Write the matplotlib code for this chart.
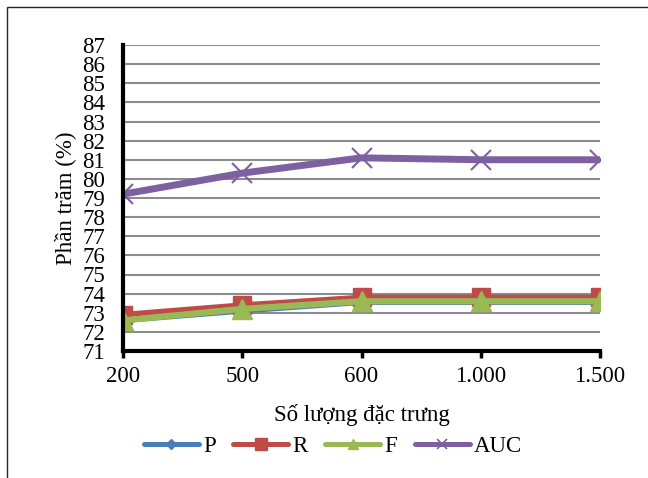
import matplotlib
matplotlib.use("Agg")
import matplotlib.pyplot as plt
from matplotlib.patches import Rectangle
from matplotlib.lines import Line2D

categories = ["200", "500", "600", "1.000", "1.500"]
P = [72.6, 73.1, 73.55, 73.55, 73.55]
R = [72.9, 73.4, 73.8, 73.8, 73.8]
F = [72.6, 73.2, 73.6, 73.6, 73.6]
AUC = [79.2, 80.3, 81.1, 81.0, 81.0]
y_ticks = list(range(71, 88))

plt.rcParams['font.family'] = ['Liberation Serif', 'DejaVu Serif']

W, H = 648, 478
fig = plt.figure(figsize=(W / 100, H / 100), dpi=100)
fig.patch.set_facecolor("white")

# outer chart border
fig.add_artist(Rectangle((7 / W, -0.05), 1.2, 1 - 7 / H + 0.05, transform=fig.transFigure,
                         fill=False, edgecolor="#262626", linewidth=1.0))

ax = fig.add_axes([123 / W, (H - 351) / H, (600 - 123) / W, (351 - 45) / H])
x = list(range(len(categories)))

colors = {"P": "#4A7EBB", "R": "#BE4B48", "F": "#98B954", "AUC": "#7D60A0"}
ax.plot(x, P, color=colors["P"], lw=4, marker="D", ms=7, zorder=3)
ax.plot(x, R, color=colors["R"], lw=4, marker="s", ms=13, zorder=4)
ax.plot(x, F, color=colors["F"], lw=4.5, marker="^", ms=14, zorder=5)
ax.plot(x, AUC, color=colors["AUC"], lw=5, marker="x", ms=15, mew=1.5, zorder=6)

ax.set_xlim(0, len(categories) - 1)
ax.set_ylim(71, 87)
ax.set_yticks(y_ticks)
ax.set_xticks(x)
ax.set_xticklabels(categories)
ax.tick_params(axis="y", length=0, labelsize=16.5, pad=13)
ax.tick_params(axis="x", length=5, width=2.5, labelsize=16.5, pad=6, direction="out")
ax.grid(axis="y", color="#8C8C8C", lw=1.5)
ax.set_axisbelow(True)
for s in ["top", "right"]:
    ax.spines[s].set_visible(False)
ax.spines["left"].set_linewidth(3)
ax.spines["bottom"].set_linewidth(3)
ax.spines["left"].set_zorder(7)

ax.set_xlabel("Số lượng đặc trưng", fontsize=16.5, labelpad=12)
ax.set_ylabel("Phần trăm (%)", fontsize=16.5, labelpad=4)

handles = [
    Line2D([], [], color=colors["P"], lw=3.6, solid_capstyle="round", marker="D", ms=5),
    Line2D([], [], color=colors["R"], lw=3.6, solid_capstyle="round", marker="s", ms=8),
    Line2D([], [], color=colors["F"], lw=3.6, solid_capstyle="round", marker="^", ms=7),
    Line2D([], [], color=colors["AUC"], lw=3.6, solid_capstyle="round", marker="x", ms=7, mew=1.2),
]
labels = ["P", "R", "F", "AUC"]
fig.legend(handles, labels, ncol=4, loc="center", bbox_to_anchor=(333 / W, 1 - 446 / H),
           frameon=False, fontsize=16.5, handlelength=2.4, handletextpad=0.2,
           columnspacing=0.75, borderpad=0)

fig.savefig("out.png", dpi=100)
